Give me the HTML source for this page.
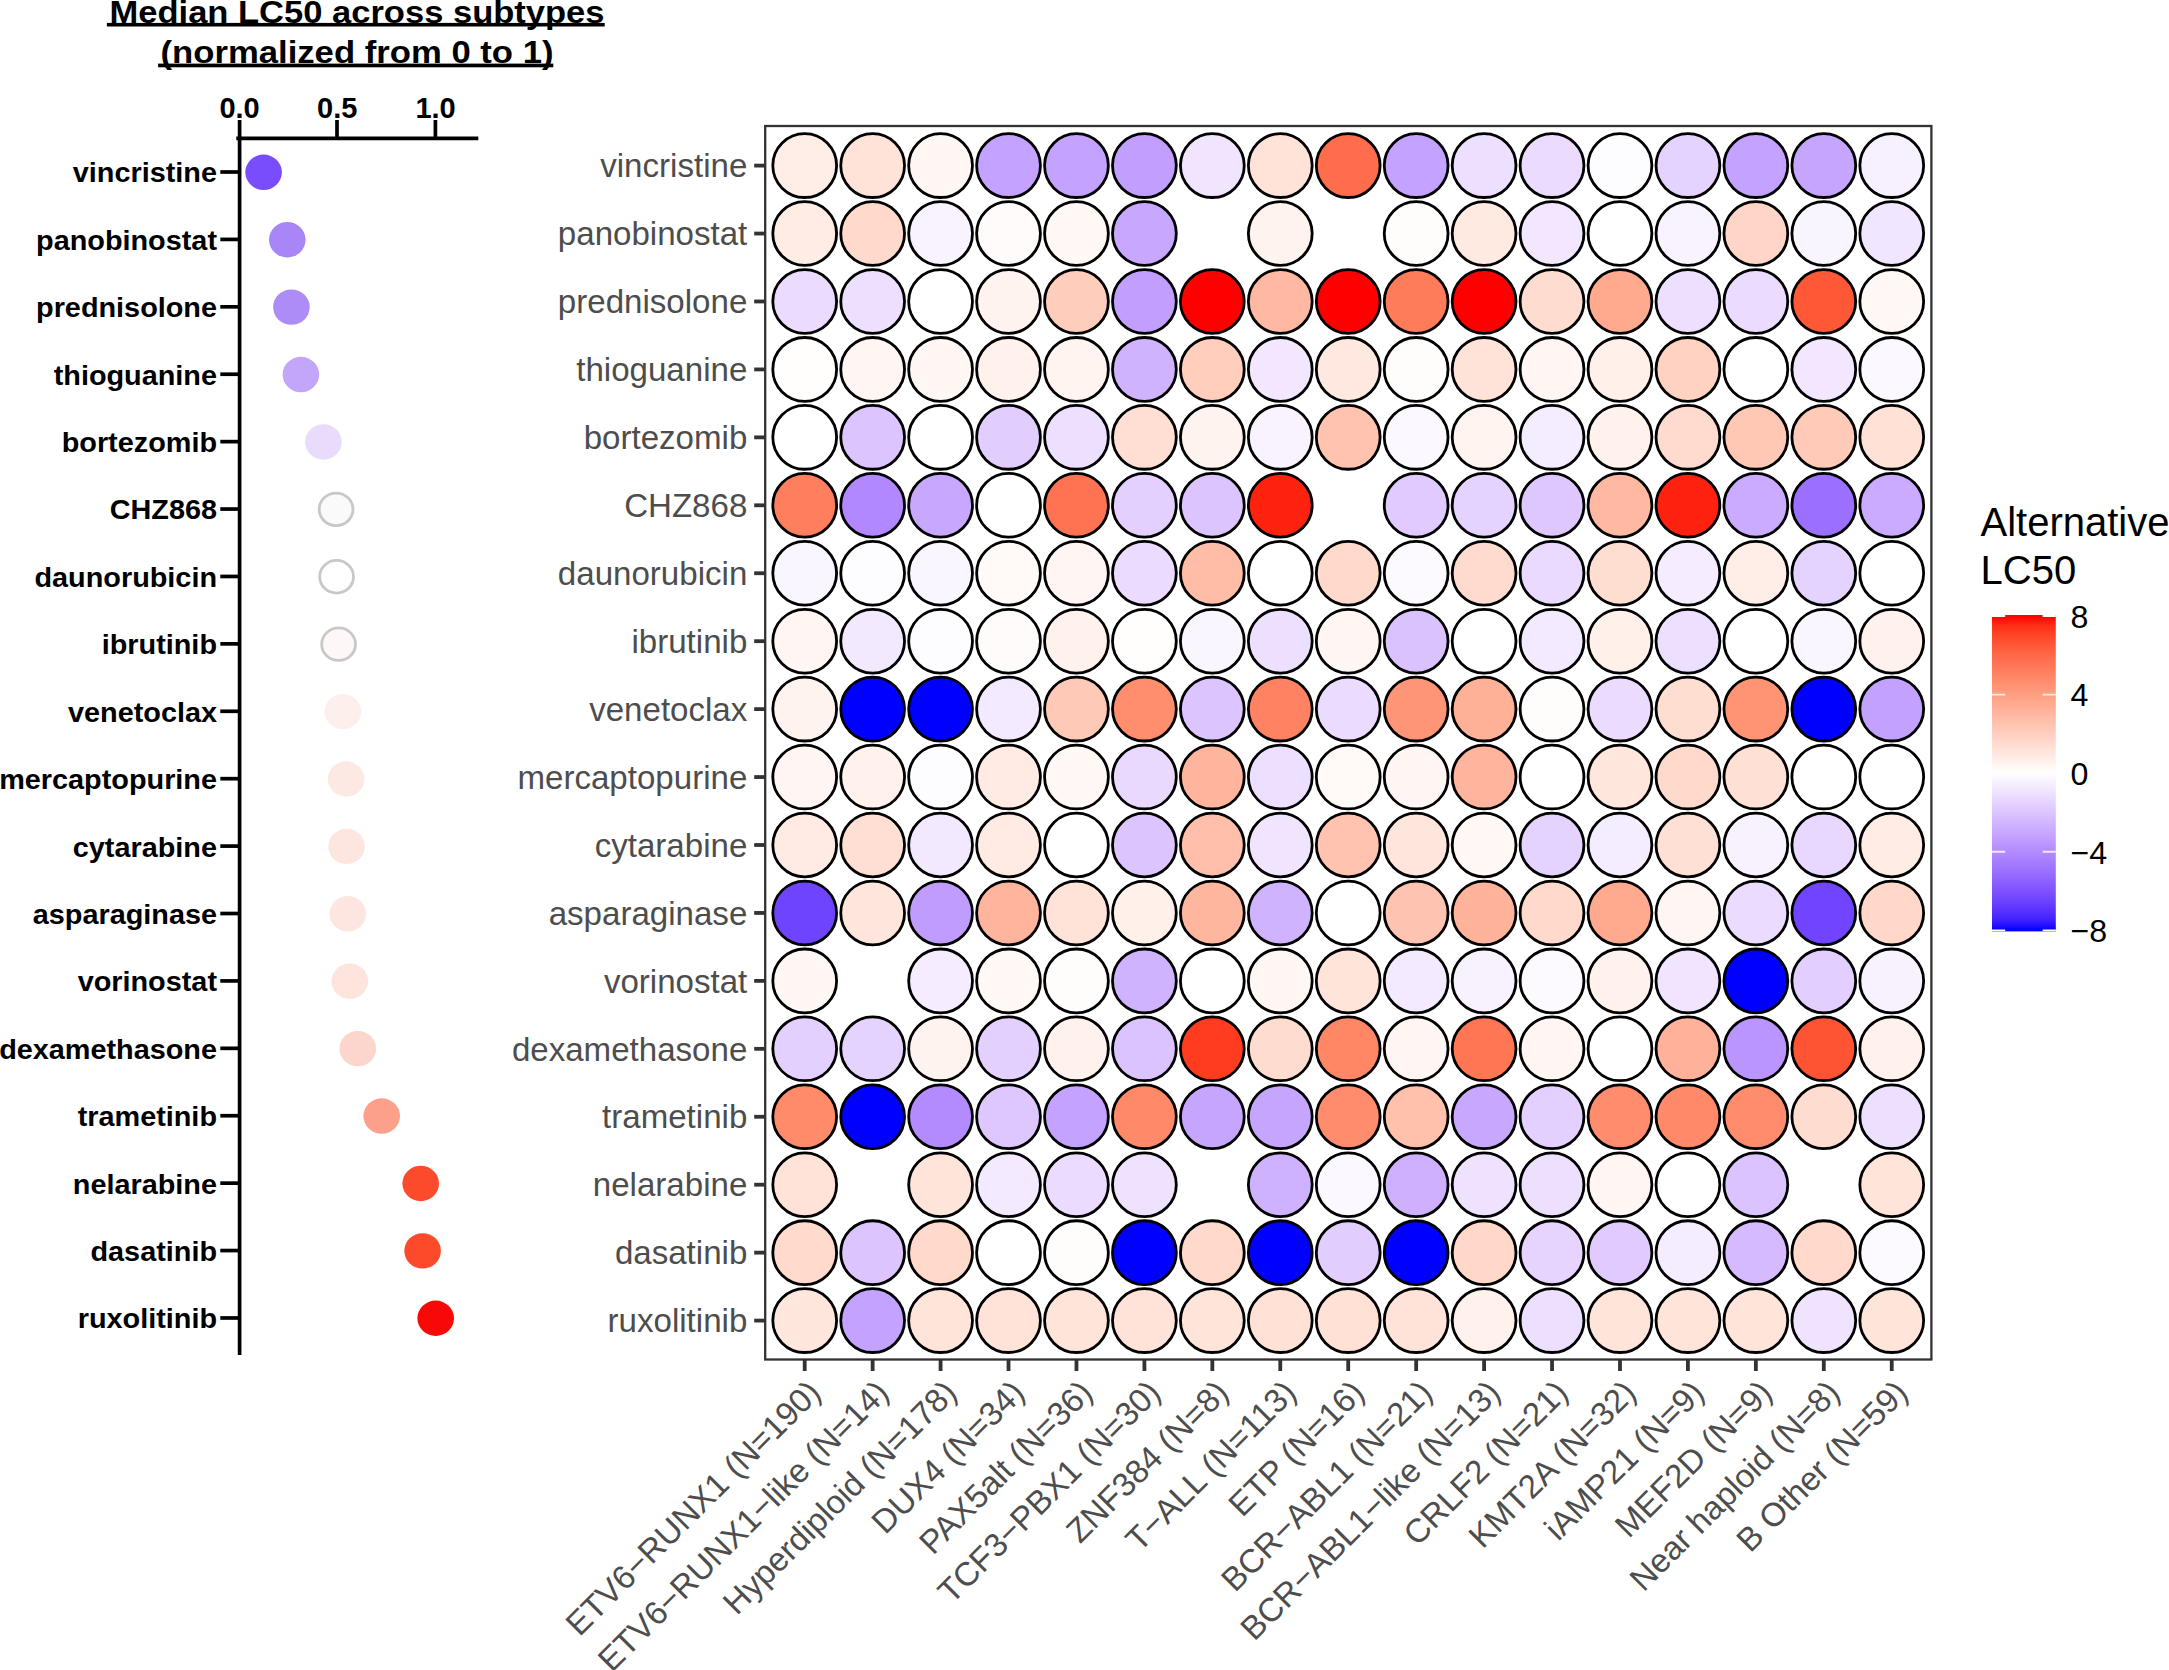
<!DOCTYPE html>
<html lang="en"><head><meta charset="utf-8"><title>Median LC50 across subtypes</title>
<style>html,body{margin:0;padding:0;background:#fff}body{width:2169px;height:1670px;overflow:hidden}svg{display:block}</style></head>
<body>
<svg width="2169" height="1670" viewBox="0 0 2169 1670">
<rect width="2169" height="1670" fill="#fff"/>
<g font-family="'Liberation Sans',Arial,sans-serif" font-weight="700" fill="#000">
<text x="357" y="22.8" font-size="30.8" text-anchor="middle" textLength="495" lengthAdjust="spacingAndGlyphs">Median LC50 across subtypes</text>
<text x="357" y="63.0" font-size="30.8" text-anchor="middle" textLength="393" lengthAdjust="spacingAndGlyphs">(normalized from 0 to 1)</text>
<rect x="106.9" y="22.9" width="497.8" height="3.6"/>
<rect x="158.1" y="63.6" width="395.2" height="3.7"/>
<text x="239.6" y="117.7" font-size="29" text-anchor="middle">0.0</text>
<text x="337.2" y="117.7" font-size="29" text-anchor="middle">0.5</text>
<text x="435.6" y="117.7" font-size="29" text-anchor="middle">1.0</text>
<g stroke="#000" stroke-width="3.7" fill="none" stroke-linecap="butt">
<path d="M236.25 138.3H478.3"/>
<path d="M239.6 120V1355"/>
<path d="M337.0 120V138.3"/>
<path d="M435.4 120V138.3"/>
<path d="M220.3 172.00H239.6"/>
<path d="M220.3 239.41H239.6"/>
<path d="M220.3 306.82H239.6"/>
<path d="M220.3 374.23H239.6"/>
<path d="M220.3 441.64H239.6"/>
<path d="M220.3 509.05H239.6"/>
<path d="M220.3 576.46H239.6"/>
<path d="M220.3 643.87H239.6"/>
<path d="M220.3 711.28H239.6"/>
<path d="M220.3 778.69H239.6"/>
<path d="M220.3 846.10H239.6"/>
<path d="M220.3 913.51H239.6"/>
<path d="M220.3 980.92H239.6"/>
<path d="M220.3 1048.33H239.6"/>
<path d="M220.3 1115.74H239.6"/>
<path d="M220.3 1183.15H239.6"/>
<path d="M220.3 1250.56H239.6"/>
<path d="M220.3 1317.97H239.6"/>
</g>
<text transform="translate(217 182.40) scale(1.03 1)" font-size="28" text-anchor="end">vincristine</text>
<text transform="translate(217 249.81) scale(1.03 1)" font-size="28" text-anchor="end">panobinostat</text>
<text transform="translate(217 317.22) scale(1.03 1)" font-size="28" text-anchor="end">prednisolone</text>
<text transform="translate(217 384.63) scale(1.03 1)" font-size="28" text-anchor="end">thioguanine</text>
<text transform="translate(217 452.04) scale(1.03 1)" font-size="28" text-anchor="end">bortezomib</text>
<text transform="translate(217 519.45) scale(1.03 1)" font-size="28" text-anchor="end">CHZ868</text>
<text transform="translate(217 586.86) scale(1.03 1)" font-size="28" text-anchor="end">daunorubicin</text>
<text transform="translate(217 654.27) scale(1.03 1)" font-size="28" text-anchor="end">ibrutinib</text>
<text transform="translate(217 721.68) scale(1.03 1)" font-size="28" text-anchor="end">venetoclax</text>
<text transform="translate(217 789.09) scale(1.03 1)" font-size="28" text-anchor="end">mercaptopurine</text>
<text transform="translate(217 856.50) scale(1.03 1)" font-size="28" text-anchor="end">cytarabine</text>
<text transform="translate(217 923.91) scale(1.03 1)" font-size="28" text-anchor="end">asparaginase</text>
<text transform="translate(217 991.32) scale(1.03 1)" font-size="28" text-anchor="end">vorinostat</text>
<text transform="translate(217 1058.73) scale(1.03 1)" font-size="28" text-anchor="end">dexamethasone</text>
<text transform="translate(217 1126.14) scale(1.03 1)" font-size="28" text-anchor="end">trametinib</text>
<text transform="translate(217 1193.55) scale(1.03 1)" font-size="28" text-anchor="end">nelarabine</text>
<text transform="translate(217 1260.96) scale(1.03 1)" font-size="28" text-anchor="end">dasatinib</text>
<text transform="translate(217 1328.37) scale(1.03 1)" font-size="28" text-anchor="end">ruxolitinib</text>
</g>
<ellipse cx="263.6" cy="172.30" rx="18.3" ry="17.7" fill="#7a4dfc"/>
<ellipse cx="287.3" cy="239.71" rx="18.3" ry="17.7" fill="#a986f8"/>
<ellipse cx="291.4" cy="307.12" rx="18.3" ry="17.7" fill="#ae8cf8"/>
<ellipse cx="300.9" cy="374.53" rx="18.3" ry="17.7" fill="#c3a6f9"/>
<ellipse cx="323.4" cy="441.94" rx="18.3" ry="17.7" fill="#e8dbfb"/>
<ellipse cx="336.1" cy="509.35" rx="16.900000000000002" ry="16.3" fill="#fbfafa" stroke="#c8c8c8" stroke-width="2.8"/>
<ellipse cx="336.6" cy="576.76" rx="16.900000000000002" ry="16.3" fill="#ffffff" stroke="#c8c8c8" stroke-width="2.8"/>
<ellipse cx="338.6" cy="644.17" rx="16.900000000000002" ry="16.3" fill="#fdf8f7" stroke="#c8c8c8" stroke-width="2.8"/>
<ellipse cx="342.8" cy="711.58" rx="18.3" ry="17.7" fill="#fdf0ec"/>
<ellipse cx="346.1" cy="778.99" rx="18.3" ry="17.7" fill="#fde9e4"/>
<ellipse cx="346.6" cy="846.40" rx="18.3" ry="17.7" fill="#fde6df"/>
<ellipse cx="347.8" cy="913.81" rx="18.3" ry="17.7" fill="#fde6e0"/>
<ellipse cx="349.8" cy="981.22" rx="18.3" ry="17.7" fill="#fde4dc"/>
<ellipse cx="357.8" cy="1048.63" rx="18.3" ry="17.7" fill="#fcd6cc"/>
<ellipse cx="381.7" cy="1116.04" rx="18.3" ry="17.7" fill="#fc9f8b"/>
<ellipse cx="420.7" cy="1183.45" rx="18.3" ry="17.7" fill="#fc4a2d"/>
<ellipse cx="422.6" cy="1250.86" rx="18.3" ry="17.7" fill="#fc4a2b"/>
<ellipse cx="435.7" cy="1318.27" rx="18.3" ry="17.7" fill="#f90808"/>
<g fill="none" stroke="#333" stroke-width="3.8">
<path d="M754.2 165.60H765.2"/>
<path d="M754.2 233.54H765.2"/>
<path d="M754.2 301.48H765.2"/>
<path d="M754.2 369.42H765.2"/>
<path d="M754.2 437.36H765.2"/>
<path d="M754.2 505.30H765.2"/>
<path d="M754.2 573.24H765.2"/>
<path d="M754.2 641.18H765.2"/>
<path d="M754.2 709.12H765.2"/>
<path d="M754.2 777.06H765.2"/>
<path d="M754.2 845.00H765.2"/>
<path d="M754.2 912.94H765.2"/>
<path d="M754.2 980.88H765.2"/>
<path d="M754.2 1048.82H765.2"/>
<path d="M754.2 1116.76H765.2"/>
<path d="M754.2 1184.70H765.2"/>
<path d="M754.2 1252.64H765.2"/>
<path d="M754.2 1320.58H765.2"/>
<path d="M804.70 1359.5V1371"/>
<path d="M872.64 1359.5V1371"/>
<path d="M940.58 1359.5V1371"/>
<path d="M1008.52 1359.5V1371"/>
<path d="M1076.46 1359.5V1371"/>
<path d="M1144.40 1359.5V1371"/>
<path d="M1212.34 1359.5V1371"/>
<path d="M1280.28 1359.5V1371"/>
<path d="M1348.22 1359.5V1371"/>
<path d="M1416.16 1359.5V1371"/>
<path d="M1484.10 1359.5V1371"/>
<path d="M1552.04 1359.5V1371"/>
<path d="M1619.98 1359.5V1371"/>
<path d="M1687.92 1359.5V1371"/>
<path d="M1755.86 1359.5V1371"/>
<path d="M1823.80 1359.5V1371"/>
<path d="M1891.74 1359.5V1371"/>
</g>
<rect x="765.2" y="126.0" width="1166.2" height="1233.5" fill="none" stroke="#333" stroke-width="2.3"/>
<g stroke="#000" stroke-width="2.8">
<circle cx="804.70" cy="165.60" r="31.9" fill="#ffeee8"/>
<circle cx="872.64" cy="165.60" r="31.9" fill="#ffe2d8"/>
<circle cx="940.58" cy="165.60" r="31.9" fill="#fff7f4"/>
<circle cx="1008.52" cy="165.60" r="31.9" fill="#c4a2ff"/>
<circle cx="1076.46" cy="165.60" r="31.9" fill="#c4a2ff"/>
<circle cx="1144.40" cy="165.60" r="31.9" fill="#c29fff"/>
<circle cx="1212.34" cy="165.60" r="31.9" fill="#f0e4ff"/>
<circle cx="1280.28" cy="165.60" r="31.9" fill="#ffe2d8"/>
<circle cx="1348.22" cy="165.60" r="31.9" fill="#ff6d4c"/>
<circle cx="1416.16" cy="165.60" r="31.9" fill="#c4a2ff"/>
<circle cx="1484.10" cy="165.60" r="31.9" fill="#ecdfff"/>
<circle cx="1552.04" cy="165.60" r="31.9" fill="#ebdcff"/>
<circle cx="1619.98" cy="165.60" r="31.9" fill="#fdfcff"/>
<circle cx="1687.92" cy="165.60" r="31.9" fill="#e5d3ff"/>
<circle cx="1755.86" cy="165.60" r="31.9" fill="#c4a2ff"/>
<circle cx="1823.80" cy="165.60" r="31.9" fill="#c6a5ff"/>
<circle cx="1891.74" cy="165.60" r="31.9" fill="#f7f0ff"/>
<circle cx="804.70" cy="233.54" r="31.9" fill="#ffece5"/>
<circle cx="872.64" cy="233.54" r="31.9" fill="#ffd9cb"/>
<circle cx="940.58" cy="233.54" r="31.9" fill="#f8f3ff"/>
<circle cx="1008.52" cy="233.54" r="31.9" fill="#fffbfa"/>
<circle cx="1076.46" cy="233.54" r="31.9" fill="#fff8f5"/>
<circle cx="1144.40" cy="233.54" r="31.9" fill="#c8a8ff"/>
<circle cx="1280.28" cy="233.54" r="31.9" fill="#fff3ef"/>
<circle cx="1416.16" cy="233.54" r="31.9" fill="#fffdfc"/>
<circle cx="1484.10" cy="233.54" r="31.9" fill="#ffeae2"/>
<circle cx="1552.04" cy="233.54" r="31.9" fill="#f2e7ff"/>
<circle cx="1619.98" cy="233.54" r="31.9" fill="#ffffff"/>
<circle cx="1687.92" cy="233.54" r="31.9" fill="#f8f3ff"/>
<circle cx="1755.86" cy="233.54" r="31.9" fill="#ffd5c7"/>
<circle cx="1823.80" cy="233.54" r="31.9" fill="#f9f5ff"/>
<circle cx="1891.74" cy="233.54" r="31.9" fill="#f1e6ff"/>
<circle cx="804.70" cy="301.48" r="31.9" fill="#ebdcff"/>
<circle cx="872.64" cy="301.48" r="31.9" fill="#ecdfff"/>
<circle cx="940.58" cy="301.48" r="31.9" fill="#ffffff"/>
<circle cx="1008.52" cy="301.48" r="31.9" fill="#fff3ef"/>
<circle cx="1076.46" cy="301.48" r="31.9" fill="#ffcdbc"/>
<circle cx="1144.40" cy="301.48" r="31.9" fill="#c29fff"/>
<circle cx="1212.34" cy="301.48" r="31.9" fill="#ff0000"/>
<circle cx="1280.28" cy="301.48" r="31.9" fill="#ffb9a3"/>
<circle cx="1348.22" cy="301.48" r="31.9" fill="#ff0000"/>
<circle cx="1416.16" cy="301.48" r="31.9" fill="#ff7c5b"/>
<circle cx="1484.10" cy="301.48" r="31.9" fill="#ff0000"/>
<circle cx="1552.04" cy="301.48" r="31.9" fill="#ffdcd0"/>
<circle cx="1619.98" cy="301.48" r="31.9" fill="#ffa98f"/>
<circle cx="1687.92" cy="301.48" r="31.9" fill="#ecdfff"/>
<circle cx="1755.86" cy="301.48" r="31.9" fill="#ebdcff"/>
<circle cx="1823.80" cy="301.48" r="31.9" fill="#ff5837"/>
<circle cx="1891.74" cy="301.48" r="31.9" fill="#fff8f5"/>
<circle cx="804.70" cy="369.42" r="31.9" fill="#fffefd"/>
<circle cx="872.64" cy="369.42" r="31.9" fill="#fff5f2"/>
<circle cx="940.58" cy="369.42" r="31.9" fill="#fff7f4"/>
<circle cx="1008.52" cy="369.42" r="31.9" fill="#fff2ed"/>
<circle cx="1076.46" cy="369.42" r="31.9" fill="#fff4f0"/>
<circle cx="1144.40" cy="369.42" r="31.9" fill="#d0b3ff"/>
<circle cx="1212.34" cy="369.42" r="31.9" fill="#ffcebd"/>
<circle cx="1280.28" cy="369.42" r="31.9" fill="#f2e7ff"/>
<circle cx="1348.22" cy="369.42" r="31.9" fill="#ffe8e0"/>
<circle cx="1416.16" cy="369.42" r="31.9" fill="#fffdfc"/>
<circle cx="1484.10" cy="369.42" r="31.9" fill="#ffe2d8"/>
<circle cx="1552.04" cy="369.42" r="31.9" fill="#fff5f2"/>
<circle cx="1619.98" cy="369.42" r="31.9" fill="#fff0ea"/>
<circle cx="1687.92" cy="369.42" r="31.9" fill="#ffd2c2"/>
<circle cx="1755.86" cy="369.42" r="31.9" fill="#ffffff"/>
<circle cx="1823.80" cy="369.42" r="31.9" fill="#f2e7ff"/>
<circle cx="1891.74" cy="369.42" r="31.9" fill="#fbf8ff"/>
<circle cx="804.70" cy="437.36" r="31.9" fill="#ffffff"/>
<circle cx="872.64" cy="437.36" r="31.9" fill="#dcc4ff"/>
<circle cx="940.58" cy="437.36" r="31.9" fill="#ffffff"/>
<circle cx="1008.52" cy="437.36" r="31.9" fill="#e2cdff"/>
<circle cx="1076.46" cy="437.36" r="31.9" fill="#ecdfff"/>
<circle cx="1144.40" cy="437.36" r="31.9" fill="#ffdfd3"/>
<circle cx="1212.34" cy="437.36" r="31.9" fill="#fff3ef"/>
<circle cx="1280.28" cy="437.36" r="31.9" fill="#f8f3ff"/>
<circle cx="1348.22" cy="437.36" r="31.9" fill="#ffc3af"/>
<circle cx="1416.16" cy="437.36" r="31.9" fill="#fbf8ff"/>
<circle cx="1484.10" cy="437.36" r="31.9" fill="#fff4f0"/>
<circle cx="1552.04" cy="437.36" r="31.9" fill="#f4ecff"/>
<circle cx="1619.98" cy="437.36" r="31.9" fill="#fff1eb"/>
<circle cx="1687.92" cy="437.36" r="31.9" fill="#ffdbcf"/>
<circle cx="1755.86" cy="437.36" r="31.9" fill="#ffc8b5"/>
<circle cx="1823.80" cy="437.36" r="31.9" fill="#ffcab8"/>
<circle cx="1891.74" cy="437.36" r="31.9" fill="#ffe1d6"/>
<circle cx="804.70" cy="505.30" r="31.9" fill="#ff7e5e"/>
<circle cx="872.64" cy="505.30" r="31.9" fill="#b188ff"/>
<circle cx="940.58" cy="505.30" r="31.9" fill="#c8a8ff"/>
<circle cx="1008.52" cy="505.30" r="31.9" fill="#ffffff"/>
<circle cx="1076.46" cy="505.30" r="31.9" fill="#ff7352"/>
<circle cx="1144.40" cy="505.30" r="31.9" fill="#e3d0ff"/>
<circle cx="1212.34" cy="505.30" r="31.9" fill="#dcc4ff"/>
<circle cx="1280.28" cy="505.30" r="31.9" fill="#ff230f"/>
<circle cx="1416.16" cy="505.30" r="31.9" fill="#e0caff"/>
<circle cx="1484.10" cy="505.30" r="31.9" fill="#e5d3ff"/>
<circle cx="1552.04" cy="505.30" r="31.9" fill="#dec7ff"/>
<circle cx="1619.98" cy="505.30" r="31.9" fill="#ffb9a3"/>
<circle cx="1687.92" cy="505.30" r="31.9" fill="#ff230f"/>
<circle cx="1755.86" cy="505.30" r="31.9" fill="#caabff"/>
<circle cx="1823.80" cy="505.30" r="31.9" fill="#9b6fff"/>
<circle cx="1891.74" cy="505.30" r="31.9" fill="#caabff"/>
<circle cx="804.70" cy="573.24" r="31.9" fill="#faf6ff"/>
<circle cx="872.64" cy="573.24" r="31.9" fill="#fdfcff"/>
<circle cx="940.58" cy="573.24" r="31.9" fill="#faf6ff"/>
<circle cx="1008.52" cy="573.24" r="31.9" fill="#fffaf8"/>
<circle cx="1076.46" cy="573.24" r="31.9" fill="#fff5f2"/>
<circle cx="1144.40" cy="573.24" r="31.9" fill="#ebdcff"/>
<circle cx="1212.34" cy="573.24" r="31.9" fill="#ffbca6"/>
<circle cx="1280.28" cy="573.24" r="31.9" fill="#ffffff"/>
<circle cx="1348.22" cy="573.24" r="31.9" fill="#ffd9cb"/>
<circle cx="1416.16" cy="573.24" r="31.9" fill="#fcf9ff"/>
<circle cx="1484.10" cy="573.24" r="31.9" fill="#ffdbcf"/>
<circle cx="1552.04" cy="573.24" r="31.9" fill="#eadaff"/>
<circle cx="1619.98" cy="573.24" r="31.9" fill="#ffded2"/>
<circle cx="1687.92" cy="573.24" r="31.9" fill="#f5edff"/>
<circle cx="1755.86" cy="573.24" r="31.9" fill="#ffeee8"/>
<circle cx="1823.80" cy="573.24" r="31.9" fill="#e5d3ff"/>
<circle cx="1891.74" cy="573.24" r="31.9" fill="#ffffff"/>
<circle cx="804.70" cy="641.18" r="31.9" fill="#fff5f2"/>
<circle cx="872.64" cy="641.18" r="31.9" fill="#f2e9ff"/>
<circle cx="940.58" cy="641.18" r="31.9" fill="#fdfcff"/>
<circle cx="1008.52" cy="641.18" r="31.9" fill="#fffbfa"/>
<circle cx="1076.46" cy="641.18" r="31.9" fill="#fff2ed"/>
<circle cx="1144.40" cy="641.18" r="31.9" fill="#fffefd"/>
<circle cx="1212.34" cy="641.18" r="31.9" fill="#faf6ff"/>
<circle cx="1280.28" cy="641.18" r="31.9" fill="#ecdfff"/>
<circle cx="1348.22" cy="641.18" r="31.9" fill="#fff5f2"/>
<circle cx="1416.16" cy="641.18" r="31.9" fill="#dac2ff"/>
<circle cx="1484.10" cy="641.18" r="31.9" fill="#ffffff"/>
<circle cx="1552.04" cy="641.18" r="31.9" fill="#f3eaff"/>
<circle cx="1619.98" cy="641.18" r="31.9" fill="#fff0ea"/>
<circle cx="1687.92" cy="641.18" r="31.9" fill="#ecdfff"/>
<circle cx="1755.86" cy="641.18" r="31.9" fill="#ffffff"/>
<circle cx="1823.80" cy="641.18" r="31.9" fill="#faf6ff"/>
<circle cx="1891.74" cy="641.18" r="31.9" fill="#fff1eb"/>
<circle cx="804.70" cy="709.12" r="31.9" fill="#fff3ef"/>
<circle cx="872.64" cy="709.12" r="31.9" fill="#0000ff"/>
<circle cx="940.58" cy="709.12" r="31.9" fill="#0000ff"/>
<circle cx="1008.52" cy="709.12" r="31.9" fill="#f3eaff"/>
<circle cx="1076.46" cy="709.12" r="31.9" fill="#ffc9b7"/>
<circle cx="1144.40" cy="709.12" r="31.9" fill="#ff8e6f"/>
<circle cx="1212.34" cy="709.12" r="31.9" fill="#dcc4ff"/>
<circle cx="1280.28" cy="709.12" r="31.9" fill="#ff8362"/>
<circle cx="1348.22" cy="709.12" r="31.9" fill="#ebdcff"/>
<circle cx="1416.16" cy="709.12" r="31.9" fill="#ff9577"/>
<circle cx="1484.10" cy="709.12" r="31.9" fill="#ffb198"/>
<circle cx="1552.04" cy="709.12" r="31.9" fill="#fffdfc"/>
<circle cx="1619.98" cy="709.12" r="31.9" fill="#ebdcff"/>
<circle cx="1687.92" cy="709.12" r="31.9" fill="#ffded2"/>
<circle cx="1755.86" cy="709.12" r="31.9" fill="#ff9475"/>
<circle cx="1823.80" cy="709.12" r="31.9" fill="#0000ff"/>
<circle cx="1891.74" cy="709.12" r="31.9" fill="#c3a1ff"/>
<circle cx="804.70" cy="777.06" r="31.9" fill="#fff5f2"/>
<circle cx="872.64" cy="777.06" r="31.9" fill="#fff1eb"/>
<circle cx="940.58" cy="777.06" r="31.9" fill="#fdfcff"/>
<circle cx="1008.52" cy="777.06" r="31.9" fill="#ffebe3"/>
<circle cx="1076.46" cy="777.06" r="31.9" fill="#fff8f5"/>
<circle cx="1144.40" cy="777.06" r="31.9" fill="#e9d9ff"/>
<circle cx="1212.34" cy="777.06" r="31.9" fill="#ffb49d"/>
<circle cx="1280.28" cy="777.06" r="31.9" fill="#ecdfff"/>
<circle cx="1348.22" cy="777.06" r="31.9" fill="#fffaf8"/>
<circle cx="1416.16" cy="777.06" r="31.9" fill="#fff5f2"/>
<circle cx="1484.10" cy="777.06" r="31.9" fill="#ffb49d"/>
<circle cx="1552.04" cy="777.06" r="31.9" fill="#ffffff"/>
<circle cx="1619.98" cy="777.06" r="31.9" fill="#ffe7de"/>
<circle cx="1687.92" cy="777.06" r="31.9" fill="#ffd9cb"/>
<circle cx="1755.86" cy="777.06" r="31.9" fill="#ffe0d5"/>
<circle cx="1823.80" cy="777.06" r="31.9" fill="#ffffff"/>
<circle cx="1891.74" cy="777.06" r="31.9" fill="#ffffff"/>
<circle cx="804.70" cy="845.00" r="31.9" fill="#ffebe3"/>
<circle cx="872.64" cy="845.00" r="31.9" fill="#ffdfd3"/>
<circle cx="940.58" cy="845.00" r="31.9" fill="#f2e9ff"/>
<circle cx="1008.52" cy="845.00" r="31.9" fill="#ffebe3"/>
<circle cx="1076.46" cy="845.00" r="31.9" fill="#ffffff"/>
<circle cx="1144.40" cy="845.00" r="31.9" fill="#dcc4ff"/>
<circle cx="1212.34" cy="845.00" r="31.9" fill="#ffbfaa"/>
<circle cx="1280.28" cy="845.00" r="31.9" fill="#f0e4ff"/>
<circle cx="1348.22" cy="845.00" r="31.9" fill="#ffc3af"/>
<circle cx="1416.16" cy="845.00" r="31.9" fill="#ffe6dd"/>
<circle cx="1484.10" cy="845.00" r="31.9" fill="#fff8f5"/>
<circle cx="1552.04" cy="845.00" r="31.9" fill="#e4d2ff"/>
<circle cx="1619.98" cy="845.00" r="31.9" fill="#f4ecff"/>
<circle cx="1687.92" cy="845.00" r="31.9" fill="#ffe0d5"/>
<circle cx="1755.86" cy="845.00" r="31.9" fill="#f8f2ff"/>
<circle cx="1823.80" cy="845.00" r="31.9" fill="#e8d7ff"/>
<circle cx="1891.74" cy="845.00" r="31.9" fill="#ffece5"/>
<circle cx="804.70" cy="912.94" r="31.9" fill="#6f44ff"/>
<circle cx="872.64" cy="912.94" r="31.9" fill="#ffe6dd"/>
<circle cx="940.58" cy="912.94" r="31.9" fill="#c09cff"/>
<circle cx="1008.52" cy="912.94" r="31.9" fill="#ffb49d"/>
<circle cx="1076.46" cy="912.94" r="31.9" fill="#ffe2d8"/>
<circle cx="1144.40" cy="912.94" r="31.9" fill="#fff0ea"/>
<circle cx="1212.34" cy="912.94" r="31.9" fill="#ffb69e"/>
<circle cx="1280.28" cy="912.94" r="31.9" fill="#d0b3ff"/>
<circle cx="1348.22" cy="912.94" r="31.9" fill="#ffffff"/>
<circle cx="1416.16" cy="912.94" r="31.9" fill="#ffc4b1"/>
<circle cx="1484.10" cy="912.94" r="31.9" fill="#ffb39b"/>
<circle cx="1552.04" cy="912.94" r="31.9" fill="#ffd9cb"/>
<circle cx="1619.98" cy="912.94" r="31.9" fill="#ffa98f"/>
<circle cx="1687.92" cy="912.94" r="31.9" fill="#fff5f2"/>
<circle cx="1755.86" cy="912.94" r="31.9" fill="#ebdcff"/>
<circle cx="1823.80" cy="912.94" r="31.9" fill="#7145ff"/>
<circle cx="1891.74" cy="912.94" r="31.9" fill="#ffd8ca"/>
<circle cx="804.70" cy="980.88" r="31.9" fill="#fff7f4"/>
<circle cx="940.58" cy="980.88" r="31.9" fill="#f5edff"/>
<circle cx="1008.52" cy="980.88" r="31.9" fill="#fff8f5"/>
<circle cx="1076.46" cy="980.88" r="31.9" fill="#fffdfc"/>
<circle cx="1144.40" cy="980.88" r="31.9" fill="#d0b3ff"/>
<circle cx="1212.34" cy="980.88" r="31.9" fill="#ffffff"/>
<circle cx="1280.28" cy="980.88" r="31.9" fill="#fff7f4"/>
<circle cx="1348.22" cy="980.88" r="31.9" fill="#ffe4da"/>
<circle cx="1416.16" cy="980.88" r="31.9" fill="#f3eaff"/>
<circle cx="1484.10" cy="980.88" r="31.9" fill="#f8f2ff"/>
<circle cx="1552.04" cy="980.88" r="31.9" fill="#fcf9ff"/>
<circle cx="1619.98" cy="980.88" r="31.9" fill="#fff2ed"/>
<circle cx="1687.92" cy="980.88" r="31.9" fill="#f0e4ff"/>
<circle cx="1755.86" cy="980.88" r="31.9" fill="#0000ff"/>
<circle cx="1823.80" cy="980.88" r="31.9" fill="#e2cfff"/>
<circle cx="1891.74" cy="980.88" r="31.9" fill="#f8f2ff"/>
<circle cx="804.70" cy="1048.82" r="31.9" fill="#e3d0ff"/>
<circle cx="872.64" cy="1048.82" r="31.9" fill="#e4d2ff"/>
<circle cx="940.58" cy="1048.82" r="31.9" fill="#fff3ef"/>
<circle cx="1008.52" cy="1048.82" r="31.9" fill="#e3d0ff"/>
<circle cx="1076.46" cy="1048.82" r="31.9" fill="#fff1eb"/>
<circle cx="1144.40" cy="1048.82" r="31.9" fill="#dbc3ff"/>
<circle cx="1212.34" cy="1048.82" r="31.9" fill="#ff3b20"/>
<circle cx="1280.28" cy="1048.82" r="31.9" fill="#ffdcd0"/>
<circle cx="1348.22" cy="1048.82" r="31.9" fill="#ff8766"/>
<circle cx="1416.16" cy="1048.82" r="31.9" fill="#fff5f2"/>
<circle cx="1484.10" cy="1048.82" r="31.9" fill="#ff7655"/>
<circle cx="1552.04" cy="1048.82" r="31.9" fill="#fff5f2"/>
<circle cx="1619.98" cy="1048.82" r="31.9" fill="#ffffff"/>
<circle cx="1687.92" cy="1048.82" r="31.9" fill="#ffb299"/>
<circle cx="1755.86" cy="1048.82" r="31.9" fill="#ba94ff"/>
<circle cx="1823.80" cy="1048.82" r="31.9" fill="#ff5434"/>
<circle cx="1891.74" cy="1048.82" r="31.9" fill="#fff1eb"/>
<circle cx="804.70" cy="1116.76" r="31.9" fill="#ff8b6b"/>
<circle cx="872.64" cy="1116.76" r="31.9" fill="#0000ff"/>
<circle cx="940.58" cy="1116.76" r="31.9" fill="#b38bff"/>
<circle cx="1008.52" cy="1116.76" r="31.9" fill="#dec7ff"/>
<circle cx="1076.46" cy="1116.76" r="31.9" fill="#c4a2ff"/>
<circle cx="1144.40" cy="1116.76" r="31.9" fill="#ff8969"/>
<circle cx="1212.34" cy="1116.76" r="31.9" fill="#c6a5ff"/>
<circle cx="1280.28" cy="1116.76" r="31.9" fill="#c6a5ff"/>
<circle cx="1348.22" cy="1116.76" r="31.9" fill="#ff8c6c"/>
<circle cx="1416.16" cy="1116.76" r="31.9" fill="#ffc1ac"/>
<circle cx="1484.10" cy="1116.76" r="31.9" fill="#c8a8ff"/>
<circle cx="1552.04" cy="1116.76" r="31.9" fill="#e3d0ff"/>
<circle cx="1619.98" cy="1116.76" r="31.9" fill="#ff8c6c"/>
<circle cx="1687.92" cy="1116.76" r="31.9" fill="#ff8969"/>
<circle cx="1755.86" cy="1116.76" r="31.9" fill="#ff8c6c"/>
<circle cx="1823.80" cy="1116.76" r="31.9" fill="#ffdcd0"/>
<circle cx="1891.74" cy="1116.76" r="31.9" fill="#ede0ff"/>
<circle cx="804.70" cy="1184.70" r="31.9" fill="#ffe2d8"/>
<circle cx="940.58" cy="1184.70" r="31.9" fill="#ffe4da"/>
<circle cx="1008.52" cy="1184.70" r="31.9" fill="#f3eaff"/>
<circle cx="1076.46" cy="1184.70" r="31.9" fill="#ebdcff"/>
<circle cx="1144.40" cy="1184.70" r="31.9" fill="#eee2ff"/>
<circle cx="1280.28" cy="1184.70" r="31.9" fill="#cfb2ff"/>
<circle cx="1348.22" cy="1184.70" r="31.9" fill="#fbf8ff"/>
<circle cx="1416.16" cy="1184.70" r="31.9" fill="#ceb0ff"/>
<circle cx="1484.10" cy="1184.70" r="31.9" fill="#eee2ff"/>
<circle cx="1552.04" cy="1184.70" r="31.9" fill="#ede0ff"/>
<circle cx="1619.98" cy="1184.70" r="31.9" fill="#fff5f2"/>
<circle cx="1687.92" cy="1184.70" r="31.9" fill="#ffffff"/>
<circle cx="1755.86" cy="1184.70" r="31.9" fill="#dbc3ff"/>
<circle cx="1891.74" cy="1184.70" r="31.9" fill="#ffe4da"/>
<circle cx="804.70" cy="1252.64" r="31.9" fill="#ffdacd"/>
<circle cx="872.64" cy="1252.64" r="31.9" fill="#dcc4ff"/>
<circle cx="940.58" cy="1252.64" r="31.9" fill="#ffd9cb"/>
<circle cx="1008.52" cy="1252.64" r="31.9" fill="#ffffff"/>
<circle cx="1076.46" cy="1252.64" r="31.9" fill="#fffdfc"/>
<circle cx="1144.40" cy="1252.64" r="31.9" fill="#0000ff"/>
<circle cx="1212.34" cy="1252.64" r="31.9" fill="#ffd9cb"/>
<circle cx="1280.28" cy="1252.64" r="31.9" fill="#0000ff"/>
<circle cx="1348.22" cy="1252.64" r="31.9" fill="#e2cdff"/>
<circle cx="1416.16" cy="1252.64" r="31.9" fill="#0000ff"/>
<circle cx="1484.10" cy="1252.64" r="31.9" fill="#ffd8ca"/>
<circle cx="1552.04" cy="1252.64" r="31.9" fill="#e6d4ff"/>
<circle cx="1619.98" cy="1252.64" r="31.9" fill="#e0caff"/>
<circle cx="1687.92" cy="1252.64" r="31.9" fill="#f4ecff"/>
<circle cx="1755.86" cy="1252.64" r="31.9" fill="#d5baff"/>
<circle cx="1823.80" cy="1252.64" r="31.9" fill="#ffd9cb"/>
<circle cx="1891.74" cy="1252.64" r="31.9" fill="#fcf9ff"/>
<circle cx="804.70" cy="1320.58" r="31.9" fill="#ffe7de"/>
<circle cx="872.64" cy="1320.58" r="31.9" fill="#c4a2ff"/>
<circle cx="940.58" cy="1320.58" r="31.9" fill="#ffe4da"/>
<circle cx="1008.52" cy="1320.58" r="31.9" fill="#ffe2d8"/>
<circle cx="1076.46" cy="1320.58" r="31.9" fill="#ffe4da"/>
<circle cx="1144.40" cy="1320.58" r="31.9" fill="#ffe2d8"/>
<circle cx="1212.34" cy="1320.58" r="31.9" fill="#ffe4da"/>
<circle cx="1280.28" cy="1320.58" r="31.9" fill="#ffe1d6"/>
<circle cx="1348.22" cy="1320.58" r="31.9" fill="#ffe1d6"/>
<circle cx="1416.16" cy="1320.58" r="31.9" fill="#ffe2d8"/>
<circle cx="1484.10" cy="1320.58" r="31.9" fill="#fff2ed"/>
<circle cx="1552.04" cy="1320.58" r="31.9" fill="#ecdfff"/>
<circle cx="1619.98" cy="1320.58" r="31.9" fill="#ffe4da"/>
<circle cx="1687.92" cy="1320.58" r="31.9" fill="#ffe4da"/>
<circle cx="1755.86" cy="1320.58" r="31.9" fill="#ffe4da"/>
<circle cx="1823.80" cy="1320.58" r="31.9" fill="#efe3ff"/>
<circle cx="1891.74" cy="1320.58" r="31.9" fill="#ffe4da"/>
</g>
<g font-family="'Liberation Sans',Arial,sans-serif" fill="#4d4d4d">
<text x="747.3" y="177.30" font-size="33.1" text-anchor="end">vincristine</text>
<text x="747.3" y="245.24" font-size="33.1" text-anchor="end">panobinostat</text>
<text x="747.3" y="313.18" font-size="33.1" text-anchor="end">prednisolone</text>
<text x="747.3" y="381.12" font-size="33.1" text-anchor="end">thioguanine</text>
<text x="747.3" y="449.06" font-size="33.1" text-anchor="end">bortezomib</text>
<text x="747.3" y="517.00" font-size="33.1" text-anchor="end">CHZ868</text>
<text x="747.3" y="584.94" font-size="33.1" text-anchor="end">daunorubicin</text>
<text x="747.3" y="652.88" font-size="33.1" text-anchor="end">ibrutinib</text>
<text x="747.3" y="720.82" font-size="33.1" text-anchor="end">venetoclax</text>
<text x="747.3" y="788.76" font-size="33.1" text-anchor="end">mercaptopurine</text>
<text x="747.3" y="856.70" font-size="33.1" text-anchor="end">cytarabine</text>
<text x="747.3" y="924.64" font-size="33.1" text-anchor="end">asparaginase</text>
<text x="747.3" y="992.58" font-size="33.1" text-anchor="end">vorinostat</text>
<text x="747.3" y="1060.52" font-size="33.1" text-anchor="end">dexamethasone</text>
<text x="747.3" y="1128.46" font-size="33.1" text-anchor="end">trametinib</text>
<text x="747.3" y="1196.40" font-size="33.1" text-anchor="end">nelarabine</text>
<text x="747.3" y="1264.34" font-size="33.1" text-anchor="end">dasatinib</text>
<text x="747.3" y="1332.28" font-size="33.1" text-anchor="end">ruxolitinib</text>
<text transform="translate(805.70 1377.6) rotate(-45)" x="0" y="23.83" font-size="33.1" text-anchor="end">ETV6−RUNX1 (N=190)</text>
<text transform="translate(873.64 1377.6) rotate(-45)" x="0" y="23.83" font-size="33.1" text-anchor="end">ETV6−RUNX1−like (N=14)</text>
<text transform="translate(941.58 1377.6) rotate(-45)" x="0" y="23.83" font-size="33.1" text-anchor="end">Hyperdiploid (N=178)</text>
<text transform="translate(1009.52 1377.6) rotate(-45)" x="0" y="23.83" font-size="33.1" text-anchor="end">DUX4 (N=34)</text>
<text transform="translate(1077.46 1377.6) rotate(-45)" x="0" y="23.83" font-size="33.1" text-anchor="end">PAX5alt (N=36)</text>
<text transform="translate(1145.40 1377.6) rotate(-45)" x="0" y="23.83" font-size="33.1" text-anchor="end">TCF3−PBX1 (N=30)</text>
<text transform="translate(1213.34 1377.6) rotate(-45)" x="0" y="23.83" font-size="33.1" text-anchor="end">ZNF384 (N=8)</text>
<text transform="translate(1281.28 1377.6) rotate(-45)" x="0" y="23.83" font-size="33.1" text-anchor="end">T−ALL (N=113)</text>
<text transform="translate(1349.22 1377.6) rotate(-45)" x="0" y="23.83" font-size="33.1" text-anchor="end">ETP (N=16)</text>
<text transform="translate(1417.16 1377.6) rotate(-45)" x="0" y="23.83" font-size="33.1" text-anchor="end">BCR−ABL1 (N=21)</text>
<text transform="translate(1485.10 1377.6) rotate(-45)" x="0" y="23.83" font-size="33.1" text-anchor="end">BCR−ABL1−like (N=13)</text>
<text transform="translate(1553.04 1377.6) rotate(-45)" x="0" y="23.83" font-size="33.1" text-anchor="end">CRLF2 (N=21)</text>
<text transform="translate(1620.98 1377.6) rotate(-45)" x="0" y="23.83" font-size="33.1" text-anchor="end">KMT2A (N=32)</text>
<text transform="translate(1688.92 1377.6) rotate(-45)" x="0" y="23.83" font-size="33.1" text-anchor="end">iAMP21 (N=9)</text>
<text transform="translate(1756.86 1377.6) rotate(-45)" x="0" y="23.83" font-size="33.1" text-anchor="end">MEF2D (N=9)</text>
<text transform="translate(1824.80 1377.6) rotate(-45)" x="0" y="23.83" font-size="33.1" text-anchor="end">Near haploid (N=8)</text>
<text transform="translate(1892.74 1377.6) rotate(-45)" x="0" y="23.83" font-size="33.1" text-anchor="end">B Other (N=59)</text>
</g>
<defs><linearGradient id="lg" x1="0" y1="0" x2="0" y2="1">
<stop offset="0.00316" stop-color="#ff0000"/>
<stop offset="0.03421" stop-color="#ff2f17"/>
<stop offset="0.06527" stop-color="#ff4628"/>
<stop offset="0.09632" stop-color="#ff5837"/>
<stop offset="0.12737" stop-color="#ff6846"/>
<stop offset="0.15842" stop-color="#ff7655"/>
<stop offset="0.18948" stop-color="#ff8464"/>
<stop offset="0.22053" stop-color="#ff9172"/>
<stop offset="0.25158" stop-color="#ff9e81"/>
<stop offset="0.28263" stop-color="#ffaa90"/>
<stop offset="0.31369" stop-color="#ffb7a0"/>
<stop offset="0.34474" stop-color="#ffc3af"/>
<stop offset="0.37579" stop-color="#ffcfbf"/>
<stop offset="0.40684" stop-color="#ffdbcf"/>
<stop offset="0.43790" stop-color="#ffe7de"/>
<stop offset="0.46895" stop-color="#fff3ef"/>
<stop offset="0.50000" stop-color="#ffffff"/>
<stop offset="0.53105" stop-color="#f7f0ff"/>
<stop offset="0.56210" stop-color="#eee2ff"/>
<stop offset="0.59316" stop-color="#e5d3ff"/>
<stop offset="0.62421" stop-color="#dcc4ff"/>
<stop offset="0.65526" stop-color="#d2b6ff"/>
<stop offset="0.68631" stop-color="#c8a8ff"/>
<stop offset="0.71737" stop-color="#be99ff"/>
<stop offset="0.74842" stop-color="#b38bff"/>
<stop offset="0.77947" stop-color="#a77dff"/>
<stop offset="0.81052" stop-color="#9b6fff"/>
<stop offset="0.84158" stop-color="#8d60ff"/>
<stop offset="0.87263" stop-color="#7e52ff"/>
<stop offset="0.90368" stop-color="#6d42ff"/>
<stop offset="0.93473" stop-color="#5932ff"/>
<stop offset="0.96579" stop-color="#3f1fff"/>
<stop offset="0.99684" stop-color="#0000ff"/>
</linearGradient></defs>
<rect x="1992.0" y="615.0" width="63.8" height="316.4" fill="url(#lg)"/>
<g stroke="#fff" stroke-width="1.9">
<path d="M1992.0 616.00h13.2M2055.8 616.00h-13.2"/>
<path stroke-opacity="0.8" d="M1992.0 694.60h13.2M2055.8 694.60h-13.2"/>
<path stroke-opacity="0.8" d="M1992.0 851.80h13.2M2055.8 851.80h-13.2"/>
<path d="M1992.0 930.40h13.2M2055.8 930.40h-13.2"/>
</g>
<g font-family="'Liberation Sans',Arial,sans-serif" fill="#000">
<text x="1980.5" y="535.8" font-size="40">Alternative</text>
<text x="1980.5" y="584.0" font-size="40">LC50</text>
<text x="2070.4" y="627.70" font-size="32.2">8</text>
<text x="2070.4" y="706.30" font-size="32.2">4</text>
<text x="2070.4" y="784.90" font-size="32.2">0</text>
<text x="2070.4" y="863.50" font-size="32.2">−4</text>
<text x="2070.4" y="942.10" font-size="32.2">−8</text>
</g>
</svg>
</body></html>
